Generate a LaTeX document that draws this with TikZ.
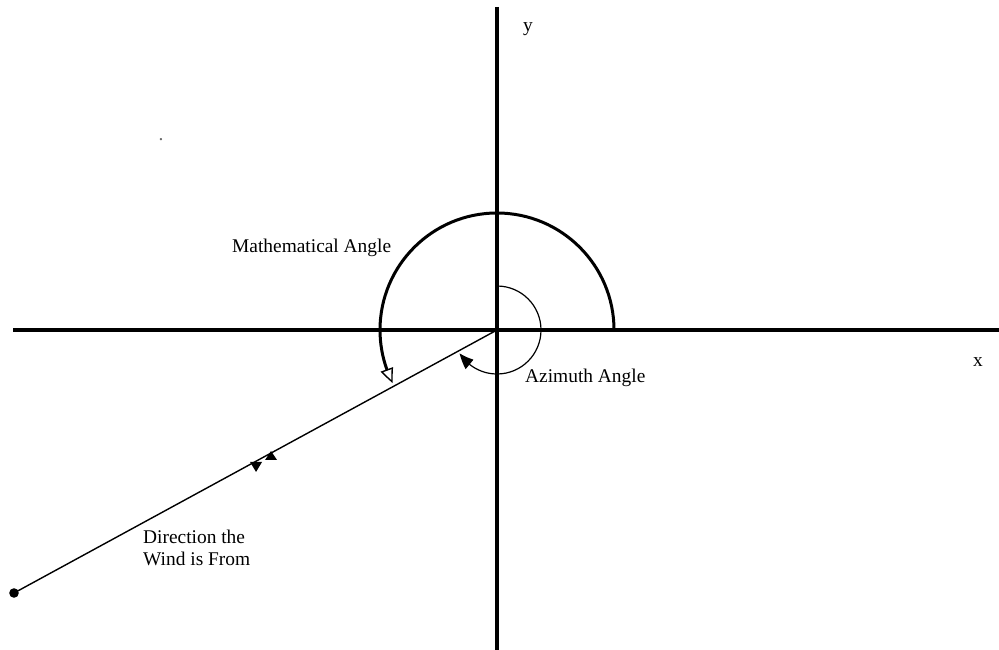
\documentclass[tikz,border=0pt]{standalone}
\usepackage{fontspec}
\setmainfont{Liberation Serif}
\usetikzlibrary{arrows.meta,calc,bending}
\begin{document}
\begin{tikzpicture}[x=1pt,y=-1pt,
  lbl/.style={font=\fontsize{19.4}{22}\selectfont, inner sep=0pt},
  axis/.style={line width=4pt},
  bowtip/.style={fill=black, draw=none}]
\useasboundingbox (0,0) rectangle (999,650);
% axes
\coordinate (O) at (497,330);
\coordinate (ytop) at (497,7);
\coordinate (ybot) at (497,650);
\coordinate (xl) at (13,330);
\coordinate (xr) at (999,330);
\draw[axis] (ytop) -- (ybot);
\draw[axis] (xl) -- (xr);
\node[lbl] (ylab) at (528,29) {y};
\node[lbl] (xlab) at (978,362) {x};
% wind line
\coordinate (D) at (14,593);
\draw[line width=1.4pt] (O) -- (D);
\fill (D) circle (4.8);
\coordinate (M) at ($(O)!0.485!(D)$);
\fill[bowtip] ($(M)+(2.3,2.4)$) -- ($(M)+(14.3,2.4)$) -- ($(M)+(8.3,-6.6)$) -- cycle;
\fill[bowtip] ($(M)+(-12.7,4.4)$) -- ($(M)+(-0.7,4.4)$) -- ($(M)+(-6.7,14.4)$) -- cycle;
% mathematical angle arc
\draw[line width=3pt, -{Triangle[open, length=15pt, width=13pt, line width=1.4pt, bend]}]
  (614,330) arc[start angle=0, end angle=-207, radius=117];
% azimuth angle arc
\draw[line width=1.2pt, -{Triangle[length=15pt, width=12pt, bend]}]
  (497,286) arc[start angle=-90, end angle=148, radius=44];
% labels
\node[lbl, anchor=base west] (math) at (232,252) {Mathematical Angle};
\node[lbl, anchor=base west] (azi) at (525,382) {Azimuth Angle};
\node[lbl, anchor=base west] (dir1) at (143,543) {Direction the};
\node[lbl, anchor=base west] (dir2) at (143,565) {Wind is From};
\node[lbl, anchor=base, text=black!60] (dot) at (161,141) {.};
\end{tikzpicture}
\end{document}
